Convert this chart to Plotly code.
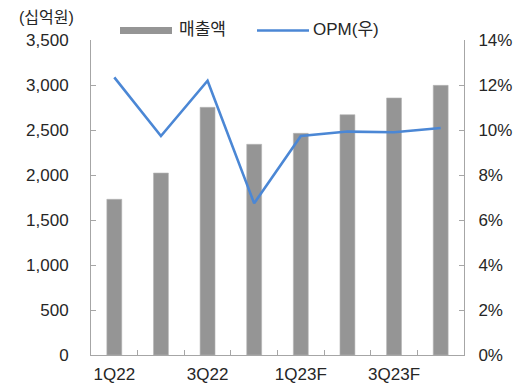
import plotly.graph_objects as go

# Quarterly revenue (KRW bn) and operating margin (%)
quarters = ["1Q22", "2Q22", "3Q22", "4Q22", "1Q23F", "2Q23F", "3Q23F", "4Q23F"]
tick_labels = ["1Q22", "", "3Q22", "", "1Q23F", "", "3Q23F", ""]
revenue = [1730, 2022, 2752, 2341, 2463, 2670, 2856, 2996]
opm = [12.34, 9.73, 12.19, 6.74, 9.73, 9.93, 9.90, 10.09]

bar_name = "매출액"
line_name = "OPM(우)"
unit_label = "(십억원)"

FONT = "Liberation Sans, Arial, Noto Sans CJK KR, sans-serif"
TXT = "#262626"
AXIS = "#a6a6a6"
BAR = "#959595"
LINE = "#4b87d5"

fig = go.Figure()
fig.add_trace(go.Bar(
    x=quarters, y=revenue, name=bar_name,
    marker=dict(color=BAR, line=dict(color="#b5b5b5", width=0.6)),
    showlegend=False,
))
fig.add_trace(go.Scatter(
    x=quarters, y=opm, name=line_name, yaxis="y2", mode="lines",
    line=dict(color=LINE, width=2.6),
    showlegend=False,
))

fig.update_layout(
    width=525, height=385,
    margin=dict(l=91, r=61, t=40, b=30),
    paper_bgcolor="white", plot_bgcolor="white",
    font=dict(family=FONT, size=17, color=TXT),
    bargap=0.68,
    xaxis=dict(
        tickmode="array", tickvals=quarters, ticktext=tick_labels,
        tickson="boundaries", ticks="inside", ticklen=5, tickcolor=AXIS,
        showline=True, linecolor=AXIS, linewidth=1, showgrid=False,
        tickfont=dict(size=17, color=TXT), ticklabelstandoff=4,
        tickangle=0, automargin=False,
    ),
    yaxis=dict(
        range=[0, 3500], dtick=500, tickformat=",",
        ticks="inside", ticklen=5, tickcolor=AXIS,
        showline=True, linecolor=AXIS, linewidth=1, showgrid=False,
        zeroline=False, tickfont=dict(size=17, color=TXT),
        ticklabelstandoff=18, automargin=False,
    ),
    yaxis2=dict(
        range=[0, 14], dtick=2, ticksuffix="%", overlaying="y", side="right",
        ticks="inside", ticklen=5, tickcolor=AXIS,
        showline=True, linecolor=AXIS, linewidth=1, showgrid=False,
        zeroline=False, tickfont=dict(size=17, color=TXT),
        ticklabelstandoff=10, automargin=False,
    ),
)

# Legend drawn above the plot area
fig.add_shape(type="rect", xref="paper", yref="paper",
              x0=(120 - 91) / 373, x1=(172 - 91) / 373,
              y0=(355 - 34) / 315, y1=(355 - 27) / 315,
              fillcolor=BAR, line=dict(width=0))
fig.add_annotation(text=bar_name, xref="paper", yref="paper",
                   x=(177 - 91) / 373, y=(355 - 30) / 315,
                   xanchor="left", yanchor="middle", showarrow=False,
                   font=dict(size=17, color=TXT))
fig.add_shape(type="line", xref="paper", yref="paper",
              x0=(257 - 91) / 373, x1=(309 - 91) / 373,
              y0=(355 - 30.5) / 315, y1=(355 - 30.5) / 315,
              line=dict(color=LINE, width=2.6))
fig.add_annotation(text=line_name, xref="paper", yref="paper",
                   x=(311 - 91) / 373, y=(355 - 30) / 315,
                   xanchor="left", yanchor="middle", showarrow=False,
                   font=dict(size=17, color=TXT))
fig.add_annotation(text=unit_label, xref="paper", yref="paper",
                   x=(46 - 91) / 373, y=(355 - 17) / 315,
                   xanchor="center", yanchor="middle", showarrow=False,
                   font=dict(size=16, color=TXT))

fig.write_html("out.html")
